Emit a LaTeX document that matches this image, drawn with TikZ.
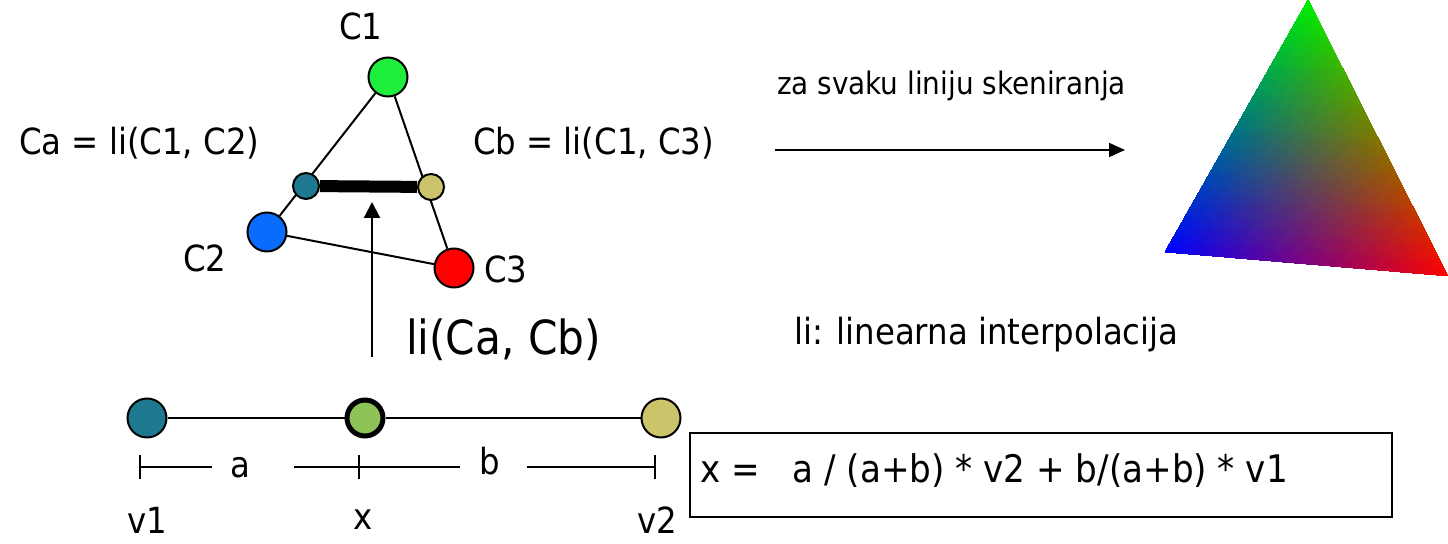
\documentclass[tikz,border=0pt]{standalone}
\usepackage{fontspec}
\setmainfont{DejaVu Sans Condensed}
\usepackage{pgfplots}
\pgfplotsset{compat=1.18}
\usetikzlibrary{arrows.meta}
\definecolor{cgreen}{HTML}{1EEE3C}
\definecolor{cblue}{HTML}{0A6BFF}
\definecolor{cred}{HTML}{FF0000}
\definecolor{cteal}{HTML}{1E7890}
\definecolor{ckhaki}{HTML}{CCC46A}
\definecolor{clgreen}{HTML}{8EC457}
\begin{document}
\begin{tikzpicture}[x=0.5pt, y=-0.5pt, line width=1pt,
        vtx/.style={circle, draw, line width=1pt, minimum size=19.5pt, inner sep=0pt},
        smvtx/.style={vtx, minimum size=13pt},
        lbl/.style={font=\fontsize{18}{22}\selectfont, inner sep=0pt},
        tip/.style={-{Triangle[width=8pt, length=8pt]}}]
    \useasboundingbox (0,0) rectangle (1448,544);
    % triangle with vertex colours
    \foreach \n/\px/\py/\c in {C1/388/77/cgreen, C2/267/232/cblue, C3/454/268/cred}
        \node[vtx, fill=\c] (\n) at (\px,\py) {};
    \draw (C1) -- (C2) (C1) -- (C3) (C2) -- (C3);
    \node[smvtx, fill=cteal] (Ca) at (306,186) {};
    \node[smvtx, fill=ckhaki] (Cb) at (431,187) {};
    \draw[line width=6pt] (Ca) -- (Cb);
    \node[lbl, anchor=base] (tC1) at (361,40) {C1};
    \node[lbl, anchor=base] (tC2) at (205,272) {C2};
    \node[lbl, anchor=base] (tC3) at (506,283) {C3};
    \node[lbl, anchor=base west] (tCa) at (18,155) {Ca = li(C1, C2)};
    \node[lbl, anchor=base west] (tCb) at (472,155) {Cb = li(C1, C3)};
    % scanline interpolation
    \coordinate (li0) at (372,357);
    \coordinate (li1) at (372,202);
    \draw[tip] (li0) -- (li1);
    \node[font=\fontsize{23.5}{28}\selectfont, inner sep=0pt, anchor=base west] (tli) at (405,355) {li(Ca, Cb)};
    \node[font=\fontsize{15.5}{19}\selectfont, inner sep=0pt, anchor=base west] (tscan) at (776,95) {za svaku liniju skeniranja};
    \coordinate (s0) at (775,150);
    \coordinate (s1) at (1125,150);
    \draw[-{Triangle[width=7pt, length=8pt]}] (s0) -- (s1);
    \node[lbl, anchor=base west] (tdef) at (793,345) {li: linearna interpolacija};
    % shaded result
    \begin{axis}[hide axis, anchor=origin, at={(1160,0)}, x=0.5pt, y=0.5pt,
            disabledatascaling, xmin=0, xmax=288, ymin=-280, ymax=0, clip=false]
        \addplot[patch, patch type=triangle, shader=interp, mesh/color input=explicit]
            table[meta=c] {
            x   y    c
            148 0    rgb=0,0.93,0
            5   -252 rgb=0,0,1
            288 -276 rgb=1,0,0
        };
    \end{axis}
    % one span
    \node[vtx, fill=cteal] (v1) at (147,418) {};
    \node[vtx, fill=clgreen, line width=2.5pt, minimum size=18pt] (x) at (365,418) {};
    \node[vtx, fill=ckhaki] (v2) at (661,418) {};
    \draw (v1) -- (x) -- (v2);
    \coordinate (d0) at (140,467);
    \coordinate (d1) at (359,467);
    \coordinate (d2) at (655,467);
    \foreach \d in {d0,d1,d2}
        \draw ([yshift=6pt]\d) -- ([yshift=-6pt]\d);
    \draw (d0) -- (212,467) (294,467) -- (460,467) (527,467) -- (d2);
    \node[lbl, anchor=base] (ta) at (240,478) {a};
    \node[lbl, anchor=base] (tb) at (490,475) {b};
    \node[lbl, anchor=base] (tv1) at (147,534) {v1};
    \node[lbl, anchor=base] (tx) at (363,530) {x};
    \node[lbl, anchor=base] (tv2) at (657,534) {v2};
    \draw (690,433) rectangle (1392,517);
    \node[font=\fontsize{19}{23}\selectfont, inner sep=0pt, anchor=base west] (form) at (700,483)
        {x =\ \ \ a / (a+b) * v2 + b/(a+b) * v1};
\end{tikzpicture}
\end{document}
